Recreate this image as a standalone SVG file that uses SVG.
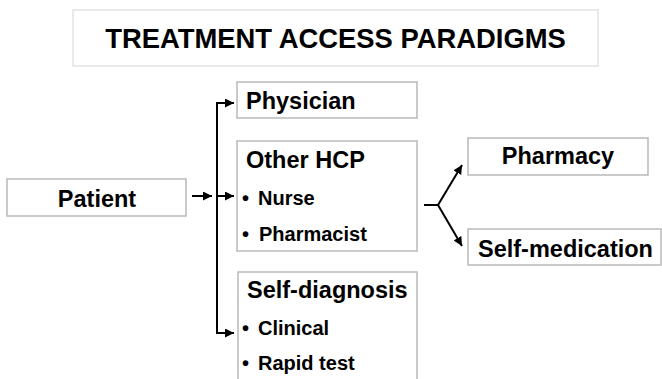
<svg xmlns="http://www.w3.org/2000/svg" width="662" height="379" viewBox="0 0 662 379">
  <defs>
    <marker id="arrow" viewBox="0 0 10 10" refX="10" refY="5" markerWidth="4.5" markerHeight="4.5" orient="auto" markerUnits="strokeWidth">
      <path d="M0,0 L10,5 L0,10 Z" fill="#000"/>
    </marker>
    <style>
      .box { fill: #fff; stroke: #b9b9b9; stroke-width: 1.5; }
      .title-box { fill: #fff; stroke: #e2e2e2; stroke-width: 1.5; }
      .t { font-family: "Liberation Sans", Arial, sans-serif; font-weight: bold; fill: #000; }
      .head { font-size: 23.5px; }
      .item { font-size: 20px; }
      .line { fill: none; stroke: #000; stroke-width: 2; }
    </style>
  </defs>

  <rect width="662" height="379" fill="#fff"/>

  <g id="title">
    <rect class="title-box" x="73" y="10" width="525" height="56"/>
    <text class="t" x="335.5" y="48" font-size="27.4" text-anchor="middle">TREATMENT ACCESS PARADIGMS</text>
  </g>

  <g id="patient">
    <rect class="box" x="7" y="179" width="179" height="37"/>
    <text class="t head" x="97" y="207" text-anchor="middle">Patient</text>
  </g>

  <g id="physician">
    <rect class="box" x="237" y="82" width="180" height="36"/>
    <text class="t head" x="246" y="109">Physician</text>
  </g>

  <g id="other-hcp">
    <rect class="box" x="237" y="141" width="180" height="110"/>
    <text class="t head" x="246" y="168">Other HCP</text>
    <text class="t item" x="242" y="205">•</text>
    <text class="t item" x="258" y="205">Nurse</text>
    <text class="t item" x="242" y="241">•</text>
    <text class="t item" x="259" y="241">Pharmacist</text>
  </g>

  <g id="self-diagnosis">
    <rect class="box" x="238" y="272" width="179" height="120"/>
    <text class="t head" x="247" y="298">Self-diagnosis</text>
    <text class="t item" x="242" y="335">•</text>
    <text class="t item" x="258" y="335">Clinical</text>
    <text class="t item" x="242" y="370">•</text>
    <text class="t item" x="258" y="370">Rapid test</text>
  </g>

  <g id="pharmacy">
    <rect class="box" x="468" y="138" width="180" height="37"/>
    <text class="t head" x="558" y="164" text-anchor="middle">Pharmacy</text>
  </g>

  <g id="self-medication">
    <rect class="box" x="468" y="229" width="193" height="36"/>
    <text class="t head" x="565.5" y="257" text-anchor="middle">Self-medication</text>
  </g>

  <g id="connectors">
    <!-- patient into the bracket -->
    <line class="line" x1="192" y1="196" x2="212" y2="196" marker-end="url(#arrow)"/>
    <!-- bracket spine -->
    <line class="line" x1="217" y1="102" x2="217" y2="334"/>
    <!-- bracket branches -->
    <line class="line" x1="216" y1="103" x2="234" y2="103" marker-end="url(#arrow)"/>
    <line class="line" x1="217" y1="196" x2="234" y2="196" marker-end="url(#arrow)"/>
    <line class="line" x1="216" y1="333" x2="234" y2="333" marker-end="url(#arrow)"/>
    <!-- fork from other HCP -->
    <line class="line" x1="424" y1="205" x2="439" y2="205"/>
    <line class="line" x1="438" y1="205" x2="462" y2="165" marker-end="url(#arrow)"/>
    <line class="line" x1="438" y1="205" x2="462" y2="246" marker-end="url(#arrow)"/>
  </g>
</svg>
